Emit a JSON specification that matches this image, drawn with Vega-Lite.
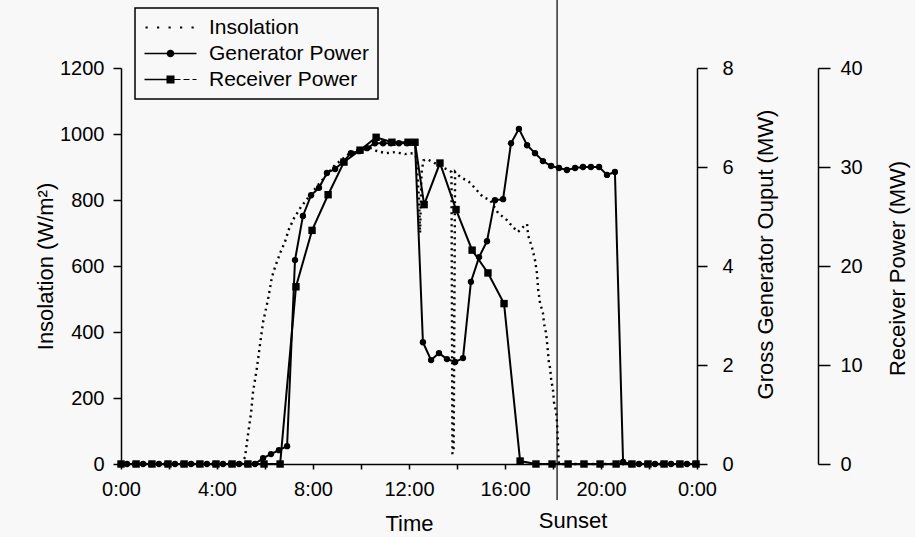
{
  "$schema": "https://vega.github.io/schema/vega-lite/v6.json",
  "width": 576,
  "height": 396,
  "autosize": {"type": "none"},
  "padding": {"left": 121, "top": 68, "right": 218, "bottom": 73},
  "background": "#f8f8f8",
  "config": {
    "view": {"stroke": null},
    "font": "Liberation Sans",
    "axis": {
      "domainColor": "black", "tickColor": "black", "labelColor": "black", "titleColor": "black",
      "labelFont": "Liberation Sans", "titleFont": "Liberation Sans",
      "labelFontSize": 20, "titleFontSize": 22, "titleFontWeight": "normal",
      "grid": false, "domainWidth": 1.5, "tickWidth": 1.5, "labelOverlap": false, "labelFlush": false
    },
    "legend": {
      "orient": "none", "legendX": 14, "legendY": -60, "direction": "vertical",
      "symbolSize": 400, "symbolOpacity": 1, "symbolFillColor": "black", "symbolStrokeColor": "black",
      "symbolStrokeWidth": 0, "symbolOffset": 16, "labelOffset": 28,
      "labelFont": "Liberation Sans", "labelFontSize": 21, "labelColor": "black", "labelLimit": 0,
      "rowPadding": 4, "padding": 9, "strokeColor": "black", "strokeWidth": 1.5, "fillColor": "#f8f8f8", "cornerRadius": 0
    }
  },
  "datasets": {
    "insolation": [
      {"hour": 0, "insolation": 0}, {"hour": 5.0, "insolation": 0}, {"hour": 5.17, "insolation": 21},
      {"hour": 5.29, "insolation": 88}, {"hour": 5.42, "insolation": 155}, {"hour": 5.5, "insolation": 218},
      {"hour": 5.67, "insolation": 294}, {"hour": 5.79, "insolation": 361}, {"hour": 5.92, "insolation": 430},
      {"hour": 6.13, "insolation": 500}, {"hour": 6.29, "insolation": 567}, {"hour": 6.42, "insolation": 597},
      {"hour": 6.63, "insolation": 639}, {"hour": 6.83, "insolation": 673}, {"hour": 7.0, "insolation": 712},
      {"hour": 7.21, "insolation": 745}, {"hour": 7.5, "insolation": 779}, {"hour": 8.17, "insolation": 842},
      {"hour": 8.92, "insolation": 906}, {"hour": 9.54, "insolation": 942}, {"hour": 10.38, "insolation": 958},
      {"hour": 10.67, "insolation": 948}, {"hour": 11.04, "insolation": 942}, {"hour": 11.42, "insolation": 945},
      {"hour": 11.83, "insolation": 939}, {"hour": 12.17, "insolation": 942}, {"hour": 12.3, "insolation": 930},
      {"hour": 12.42, "insolation": 800}, {"hour": 12.46, "insolation": 700}, {"hour": 12.52, "insolation": 880},
      {"hour": 12.6, "insolation": 920}, {"hour": 12.75, "insolation": 924}, {"hour": 13.25, "insolation": 905},
      {"hour": 13.6, "insolation": 892}, {"hour": 13.77, "insolation": 885}, {"hour": 13.81, "insolation": 33},
      {"hour": 13.86, "insolation": 33}, {"hour": 13.92, "insolation": 885}, {"hour": 14.13, "insolation": 870},
      {"hour": 14.5, "insolation": 855}, {"hour": 14.75, "insolation": 836}, {"hour": 15.08, "insolation": 809},
      {"hour": 15.38, "insolation": 800}, {"hour": 15.71, "insolation": 761}, {"hour": 16.08, "insolation": 739},
      {"hour": 16.33, "insolation": 718}, {"hour": 16.54, "insolation": 703}, {"hour": 16.75, "insolation": 718},
      {"hour": 16.92, "insolation": 727}, {"hour": 16.96, "insolation": 694}, {"hour": 17.13, "insolation": 655},
      {"hour": 17.25, "insolation": 618}, {"hour": 17.33, "insolation": 579}, {"hour": 17.38, "insolation": 530},
      {"hour": 17.46, "insolation": 488}, {"hour": 17.58, "insolation": 458}, {"hour": 17.63, "insolation": 424},
      {"hour": 17.71, "insolation": 397}, {"hour": 17.75, "insolation": 370}, {"hour": 17.79, "insolation": 339},
      {"hour": 17.83, "insolation": 306}, {"hour": 17.88, "insolation": 291}, {"hour": 17.92, "insolation": 258},
      {"hour": 18.0, "insolation": 224}, {"hour": 18.04, "insolation": 188}, {"hour": 18.13, "insolation": 158},
      {"hour": 18.17, "insolation": 124}, {"hour": 18.19, "insolation": 88}, {"hour": 18.21, "insolation": 55},
      {"hour": 18.23, "insolation": 21}, {"hour": 18.25, "insolation": 0}, {"hour": 24, "insolation": 0}
    ],
    "generator": [
      {"hour": 0, "gen": 0}, {"hour": 0.25, "gen": 0}, {"hour": 0.58, "gen": 0}, {"hour": 0.92, "gen": 0},
      {"hour": 1.25, "gen": 0}, {"hour": 1.58, "gen": 0}, {"hour": 1.92, "gen": 0}, {"hour": 2.25, "gen": 0},
      {"hour": 2.58, "gen": 0}, {"hour": 2.92, "gen": 0}, {"hour": 3.25, "gen": 0}, {"hour": 3.58, "gen": 0},
      {"hour": 3.92, "gen": 0}, {"hour": 4.25, "gen": 0}, {"hour": 4.58, "gen": 0}, {"hour": 4.92, "gen": 0},
      {"hour": 5.25, "gen": 0}, {"hour": 5.58, "gen": 0}, {"hour": 5.92, "gen": 0.12}, {"hour": 6.25, "gen": 0.2},
      {"hour": 6.58, "gen": 0.28}, {"hour": 6.92, "gen": 0.36}, {"hour": 7.25, "gen": 4.12}, {"hour": 7.58, "gen": 5.01},
      {"hour": 7.92, "gen": 5.43}, {"hour": 8.25, "gen": 5.58}, {"hour": 8.58, "gen": 5.88}, {"hour": 8.92, "gen": 5.96},
      {"hour": 9.25, "gen": 6.1}, {"hour": 9.58, "gen": 6.28}, {"hour": 9.92, "gen": 6.32}, {"hour": 10.25, "gen": 6.38},
      {"hour": 10.58, "gen": 6.48}, {"hour": 10.92, "gen": 6.48}, {"hour": 11.25, "gen": 6.48}, {"hour": 11.58, "gen": 6.48},
      {"hour": 11.92, "gen": 6.48}, {"hour": 12.25, "gen": 6.5}, {"hour": 12.58, "gen": 2.46}, {"hour": 12.92, "gen": 2.1},
      {"hour": 13.25, "gen": 2.24}, {"hour": 13.58, "gen": 2.12}, {"hour": 13.92, "gen": 2.06}, {"hour": 14.25, "gen": 2.14},
      {"hour": 14.58, "gen": 3.68}, {"hour": 14.92, "gen": 4.18}, {"hour": 15.25, "gen": 4.5}, {"hour": 15.58, "gen": 5.33},
      {"hour": 15.92, "gen": 5.35}, {"hour": 16.25, "gen": 6.48}, {"hour": 16.58, "gen": 6.77}, {"hour": 16.92, "gen": 6.44},
      {"hour": 17.25, "gen": 6.28}, {"hour": 17.58, "gen": 6.12}, {"hour": 17.92, "gen": 6.02}, {"hour": 18.25, "gen": 5.98},
      {"hour": 18.58, "gen": 5.94}, {"hour": 18.92, "gen": 5.98}, {"hour": 19.25, "gen": 6.0}, {"hour": 19.58, "gen": 6.0},
      {"hour": 19.92, "gen": 6.0}, {"hour": 20.25, "gen": 5.84}, {"hour": 20.58, "gen": 5.9}, {"hour": 20.92, "gen": 0.04},
      {"hour": 21.25, "gen": 0}, {"hour": 21.58, "gen": 0}, {"hour": 21.92, "gen": 0}, {"hour": 22.25, "gen": 0},
      {"hour": 22.58, "gen": 0}, {"hour": 22.92, "gen": 0}, {"hour": 23.25, "gen": 0}, {"hour": 23.58, "gen": 0},
      {"hour": 23.92, "gen": 0}
    ],
    "receiver": [
      {"hour": 0, "rec": 0}, {"hour": 0.63, "rec": 0}, {"hour": 1.29, "rec": 0}, {"hour": 1.96, "rec": 0},
      {"hour": 2.63, "rec": 0}, {"hour": 3.29, "rec": 0}, {"hour": 3.96, "rec": 0}, {"hour": 4.63, "rec": 0},
      {"hour": 5.29, "rec": 0}, {"hour": 5.96, "rec": 0}, {"hour": 6.63, "rec": 0}, {"hour": 7.29, "rec": 17.9},
      {"hour": 7.96, "rec": 23.6}, {"hour": 8.63, "rec": 27.2}, {"hour": 9.29, "rec": 30.5}, {"hour": 9.96, "rec": 31.7},
      {"hour": 10.63, "rec": 33.0}, {"hour": 11.29, "rec": 32.5}, {"hour": 11.96, "rec": 32.5}, {"hour": 12.25, "rec": 32.5},
      {"hour": 12.63, "rec": 26.2}, {"hour": 13.29, "rec": 30.4}, {"hour": 13.96, "rec": 25.7}, {"hour": 14.63, "rec": 21.6},
      {"hour": 15.29, "rec": 19.3}, {"hour": 15.96, "rec": 16.2}, {"hour": 16.63, "rec": 0.3}, {"hour": 17.29, "rec": 0},
      {"hour": 17.96, "rec": 0}, {"hour": 18.63, "rec": 0}, {"hour": 19.29, "rec": 0}, {"hour": 19.96, "rec": 0},
      {"hour": 20.63, "rec": 0}, {"hour": 21.29, "rec": 0}, {"hour": 21.96, "rec": 0}, {"hour": 22.63, "rec": 0},
      {"hour": 23.29, "rec": 0}, {"hour": 23.96, "rec": 0}
    ],
    "events": [{"event": "Sunset", "hour": 18.17, "top": 1406, "bottom": -109, "labelLevel": -173}],
    "series": [{"series": "Insolation"}, {"series": "Generator Power"}, {"series": "Receiver Power"}]
  },
  "layer": [
    {
      "data": {"name": "insolation"},
      "mark": {"type": "line", "stroke": "black", "strokeWidth": 2.4, "strokeDash": [2, 4], "strokeCap": "butt"},
      "encoding": {
        "x": {
          "field": "hour", "type": "quantitative",
          "scale": {"domain": [0, 24], "nice": false},
          "axis": {
            "values": [0,1,2,3,4,5,6,7,8,9,10,11,12,13,14,15,16,17,18,19,20,21,22,23,24],
            "labelExpr": "datum.value % 4 == 0 ? (datum.value % 24) + ':00' : ''",
            "tickSize": 5, "labelPadding": 10, "title": "Time", "titleY": 59, "titleBaseline": "middle"
          }
        },
        "y": {
          "field": "insolation", "type": "quantitative",
          "scale": {"domain": [0, 1200], "nice": false},
          "axis": {
            "orient": "left", "values": [0, 200, 400, 600, 800, 1000, 1200], "format": "d", "tickSize": 8, "labelPadding": 9,
            "title": "Insolation (W/m²)", "titleAngle": 270, "titleX": -76, "titleY": 198,
            "titleBaseline": "middle", "titleAlign": "center"
          }
        }
      }
    },
    {
      "data": {"name": "generator"},
      "mark": {"type": "line", "color": "black", "strokeWidth": 2,
               "point": {"filled": true, "shape": "circle", "size": 40, "color": "black"}},
      "encoding": {
        "x": {"field": "hour", "type": "quantitative"},
        "y": {
          "field": "gen", "type": "quantitative",
          "scale": {"domain": [0, 8], "nice": false},
          "axis": {
            "orient": "right", "values": [0, 2, 4, 6, 8], "tickSize": 10, "labelPadding": 15,
            "title": "Gross Generator Ouput (MW)", "titleAngle": 270, "titleX": 68, "titleY": 186,
            "titleBaseline": "middle", "titleAlign": "center"
          }
        }
      }
    },
    {
      "data": {"name": "receiver"},
      "mark": {"type": "line", "color": "black", "strokeWidth": 2,
               "point": {"filled": true, "shape": "square", "size": 55, "color": "black"}},
      "encoding": {
        "x": {"field": "hour", "type": "quantitative"},
        "y": {
          "field": "rec", "type": "quantitative",
          "scale": {"domain": [0, 40], "nice": false},
          "axis": {
            "orient": "right", "offset": 121, "values": [0, 10, 20, 30, 40], "tickSize": 12, "labelPadding": 10,
            "title": "Receiver Power (MW)", "titleAngle": 270, "titleX": 79, "titleY": 200,
            "titleBaseline": "middle", "titleAlign": "center"
          }
        }
      }
    },
    {
      "data": {"name": "events"},
      "mark": {"type": "rule", "color": "black", "strokeWidth": 1.2},
      "encoding": {
        "x": {"field": "hour", "type": "quantitative"},
        "y": {"field": "top", "type": "quantitative", "scale": {"domain": [0, 1200], "nice": false}, "axis": null},
        "y2": {"field": "bottom"}
      }
    },
    {
      "data": {"name": "events"},
      "mark": {"type": "text", "font": "Liberation Sans", "fontSize": 22, "color": "black", "dx": 16, "baseline": "middle"},
      "encoding": {
        "x": {"field": "hour", "type": "quantitative"},
        "y": {"field": "labelLevel", "type": "quantitative", "scale": {"domain": [0, 1200], "nice": false}, "axis": null},
        "text": {"field": "event"}
      }
    },
    {
      "data": {"name": "series"},
      "mark": {"type": "point", "filled": true, "color": "black", "opacity": 0},
      "encoding": {
        "shape": {
          "field": "series", "type": "nominal",
          "scale": {
            "domain": ["Insolation", "Generator Power", "Receiver Power"],
            "range": [
              "M-2.5,-0.11h0.22v0.22h-0.22zM-1.35,-0.11h0.22v0.22h-0.22zM-0.2,-0.11h0.22v0.22h-0.22zM0.95,-0.11h0.22v0.22h-0.22zM2.1,-0.11h0.22v0.22h-0.22z",
              "M-2.6,-0.08H2.6V0.08H-2.6ZM0.38,0A0.38,0.38 0 1 1 -0.38,0A0.38,0.38 0 1 1 0.38,0Z",
              "M-2.6,-0.08H0V0.08H-2.6ZM-0.4,-0.4H0.4V0.4H-0.4ZM0.4,-0.06H1.0V0.06H0.4ZM1.3,-0.06H1.9V0.06H1.3ZM2.2,-0.06H2.6V0.06H2.2Z"
            ]
          },
          "legend": {"title": null, "symbolFillColor": "black", "symbolStrokeColor": "black", "symbolOpacity": 1}
        }
      }
    }
  ],
  "resolve": {"scale": {"y": "independent"}}
}
